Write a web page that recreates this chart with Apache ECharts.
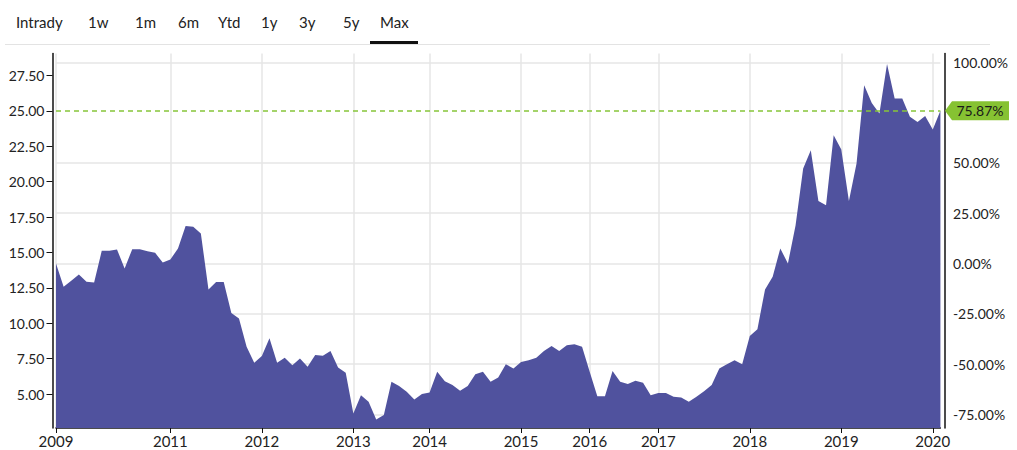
<!DOCTYPE html>
<html>
<head>
<meta charset="utf-8">
<script src="https://cdn.jsdelivr.net/npm/echarts@6/dist/echarts.min.js"></script>
<style>
    body { margin: 0; background: #fff; font-family: Lato, sans-serif; }
    #wrap { position: relative; width: 1017px; height: 450px; }
    #main { position: absolute; left: 0; top: 0; width: 1017px; height: 450px; }
    .tab { position: absolute; top: 12px; font-size: 15px; color: #222; line-height: 20px; }
    #sep { position: absolute; left: 5px; top: 44px; width: 985px; height: 1px; background: #e3e3e3; }
    #active { position: absolute; left: 370px; top: 41px; width: 48px; height: 3px; background: #111; }
</style>
</head>
<body>
<div id="wrap">
    <div id="main"></div>
    <div id="sep"></div>
    <div id="active"></div>
    <div class="tab" style="left:16px">Intrady</div>
    <div class="tab" style="left:88px">1w</div>
    <div class="tab" style="left:135px">1m</div>
    <div class="tab" style="left:178px">6m</div>
    <div class="tab" style="left:218px">Ytd</div>
    <div class="tab" style="left:261px">1y</div>
    <div class="tab" style="left:299px">3y</div>
    <div class="tab" style="left:343px">5y</div>
    <div class="tab" style="left:380px">Max</div>
</div>
<script>
// 年份刻度标签 以及 对应的数据点序号
var tickLabels = ['2009', '2011', '2012', '2013', '2014', '2015', '2016', '2017', '2018', '2019', '2020'];
var tickIndex = [0, 15, 27, 39, 49, 61, 70, 79, 91, 103, 115];

// 价格
var prices = [
    14.215, 12.57, 13.0, 13.45, 12.93, 12.88, 15.11, 15.11, 15.21, 13.87,
    15.23, 15.23, 15.09, 14.97, 14.29, 14.5, 15.28, 16.86, 16.81, 16.34,
    12.39, 12.92, 12.92, 10.73, 10.34, 8.33, 7.2, 7.68, 8.93, 7.2,
    7.56, 7.04, 7.51, 6.92, 7.75, 7.7, 8.03, 6.88, 6.5, 3.63,
    4.92, 4.45, 3.2, 3.51, 5.86, 5.56, 5.16, 4.62, 5.0, 5.11,
    6.57, 5.91, 5.63, 5.23, 5.56, 6.4, 6.57, 5.86, 6.17, 7.1,
    6.81, 7.27, 7.39, 7.56, 8.03, 8.4, 8.03, 8.45, 8.52, 8.33,
    6.57, 4.85, 4.85, 6.62, 5.86, 5.7, 5.93, 5.79, 4.92, 5.08,
    5.08, 4.8, 4.76, 4.45, 4.8, 5.2, 5.63, 6.81, 7.11, 7.39,
    7.11, 9.09, 9.58, 12.39, 13.28, 15.28, 14.22, 16.9, 20.93, 22.22,
    18.64, 18.34, 23.28, 22.27, 18.64, 21.28, 26.81, 25.56, 24.82, 28.3,
    25.88, 25.88, 24.58, 24.22, 24.63, 23.69, 25.0
];

var priceTicks = [5, 7.5, 10, 12.5, 15, 17.5, 20, 22.5, 25, 27.5];
var pctTicks = [-75, -50, -25, 0, 25, 50, 100];

var yMin = 2.6, yMax = 29.05;
var base = prices[0];
var last = prices[prices.length - 1];
var lastPct = ((last / base - 1) * 100).toFixed(2) + '%';

var categories = prices.map(function (v, i) { return String(i) });

function isTick(i) {
    return tickIndex.indexOf(i) >= 0
}

var myChart = echarts.init(document.getElementById('main'), null, { renderer: 'svg' });

var dashStyle = { type: [5, 4], color: '#86c53a', width: 1.6, opacity: 1 };

var option = {
    animation: false,
    textStyle: { fontFamily: 'Lato' },
    grid: { left: 56, right: 76.6, top: 53.5, bottom: 22 },
    xAxis: {
        type: 'category',
        data: categories,
        boundaryGap: false,
        axisLine: { onZero: false, lineStyle: { color: '#111', width: 1.5 } },
        axisTick: { interval: isTick, length: 5, lineStyle: { color: '#111' } },
        axisLabel: {
            interval: isTick,
            margin: 5,
            fontSize: 15,
            color: '#222',
            formatter: function (v, i) { return tickLabels[tickIndex.indexOf(i)] }
        },
        splitLine: { show: true, interval: isTick, lineStyle: { color: '#e6e6e6', width: 1.5 } }
    },
    yAxis: [
        {
            type: 'value',
            position: 'left',
            min: yMin,
            max: yMax,
            offset: 3.5,
            axisLine: { show: true, onZero: false, lineStyle: { color: '#111', width: 1.5 } },
            axisTick: { show: true, length: 6, customValues: priceTicks, lineStyle: { color: '#111' } },
            axisLabel: {
                customValues: priceTicks,
                margin: 8,
                fontSize: 14,
                color: '#222',
                formatter: function (v) { return v.toFixed(2) }
            },
            splitLine: { show: false }
        },
        {
            type: 'value',
            position: 'right',
            min: (yMin / base - 1) * 100,
            max: (yMax / base - 1) * 100,
            offset: 4.5,
            axisLine: { show: true, onZero: false, lineStyle: { color: '#111', width: 1.5 } },
            axisTick: { show: false, customValues: pctTicks },
            axisLabel: {
                customValues: pctTicks,
                margin: 8,
                fontSize: 14,
                color: '#222',
                formatter: function (v) { return v.toFixed(2) + '%' }
            },
            splitLine: { show: true, lineStyle: { color: '#e6e6e6', width: 1.5 } }
        }
    ],
    series: [
        {
            type: 'line',
            data: prices,
            yAxisIndex: 0,
            showSymbol: false,
            clip: false,
            lineStyle: { width: 0 },
            areaStyle: { color: '#50529e', opacity: 1 },
            markLine: {
                silent: true,
                symbol: ['none', 'none'],
                label: { show: false },
                lineStyle: dashStyle,
                emphasis: { disabled: true },
                data: [{ yAxis: last, lineStyle: dashStyle }]
            },
            markPoint: {
                silent: true,
                symbol: 'path://M0,9.5 L7,0 L64,0 L64,19 L7,19 Z',
                symbolSize: [64, 19],
                symbolOffset: [36.6, 0],
                itemStyle: { color: '#86c232' },
                label: {
                    show: true,
                    position: 'inside',
                    offset: [3, 0],
                    fontSize: 14,
                    color: '#1a1a1a',
                    formatter: lastPct
                },
                data: [{ coord: [prices.length - 1, last] }]
            }
        }
    ]
};

myChart.setOption(option);
</script>
</body>
</html>
